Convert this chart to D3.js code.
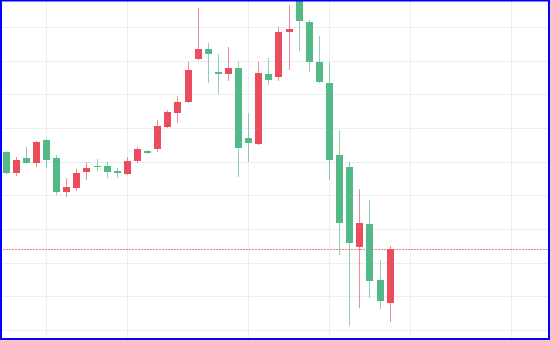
<!DOCTYPE html>
<html>
<head>
<meta charset="utf-8">
<script src="https://cdn.jsdelivr.net/npm/d3@7/dist/d3.min.js"></script>
<style>
  html, body { margin: 0; padding: 0; background: #ffffff; }
  svg { display: block; }
</style>
</head>
<body>
<div id="chart"></div>
<script>
// ---- data (bar index, OHLC) ----
const bars = d3.range(39);
const open  = [62.85,56.61,61.06,59.58,66.41,61.06,50.97,52.15,56.91,58.69,58.69,57.20,56.31,60.17,63.14,63.74,70.27,74.43,77.70,90.47,93.44,86.61,86.02,87.80,67.01,65.22,86.02,85.13,98.49,107.70,101.46,89.58,83.34,61.96,58.39,34.63,41.46,24.82,17.99];
const high  = [63.14,61.36,64.33,66.11,66.71,61.96,55.12,57.80,59.88,60.77,59.88,58.09,61.36,64.33,63.44,72.35,75.32,79.48,89.58,105.62,95.23,91.96,94.04,89.58,74.43,89.58,90.77,99.98,106.51,108.50,102.06,97.31,89.58,69.38,59.88,51.86,48.59,30.76,34.92];
const low   = [56.31,55.72,59.28,58.39,58.09,50.07,49.48,51.26,54.53,57.20,55.12,55.12,56.01,59.58,62.25,62.85,69.98,71.46,77.40,90.20,83.34,80.08,83.94,55.42,59.88,64.93,82.75,83.94,87.21,92.85,86.61,83.34,54.53,32.25,11.16,16.51,19.48,16.21,12.35];
const close = [56.61,60.47,59.58,65.82,60.47,50.97,52.45,56.61,58.09,58.39,56.91,56.61,60.17,63.74,62.55,70.57,74.73,77.70,87.21,93.44,91.96,86.02,87.80,64.04,65.52,86.31,84.24,98.49,99.39,101.76,89.58,83.64,60.47,41.76,35.82,41.76,24.53,18.58,34.03];
const priceTicks = [10,20,30,40,50,60,70,80,90,100];
const timeTicks = [4,12,24,32,40,50];
const lastPrice = close[close.length - 1];

// ---- chart ----
const W = 550, H = 340;
const upColor = "#eb4d5c", downColor = "#53b987";
const svg = d3.select("#chart").append("svg").attr("width", W).attr("height", H);
svg.append("rect").attr("width", W).attr("height", H).attr("fill", "#ffffff");

const x = d3.scaleLinear().domain([-0.554, 53.87]).range([0, W]);
const y = d3.scaleLinear().domain([7, 108]).range([H, 0]);

svg.append("defs").append("clipPath").attr("id", "clip")
  .append("rect").attr("x", 2).attr("y", 1).attr("width", W - 4).attr("height", H - 3);

const g = svg.append("g").attr("clip-path", "url(#clip)");

// grid
g.append("g").selectAll("line").data(priceTicks).join("line")
  .attr("x1", 0).attr("x2", W)
  .attr("y1", d => Math.round(y(d)) + 0.5).attr("y2", d => Math.round(y(d)) + 0.5)
  .attr("stroke", "#e9eef5").attr("stroke-width", 1);
g.append("g").selectAll("line").data(timeTicks).join("line")
  .attr("y1", 0).attr("y2", H)
  .attr("x1", d => Math.round(x(d)) + 0.5).attr("x2", d => Math.round(x(d)) + 0.5)
  .attr("stroke", "#e9eef5").attr("stroke-width", 1);

// last price line
g.append("line")
  .attr("x1", 0).attr("x2", W)
  .attr("y1", Math.round(y(lastPrice)) + 0.5).attr("y2", Math.round(y(lastPrice)) + 0.5)
  .attr("stroke", "#f07c87")
  .attr("stroke-width", 1).attr("stroke-dasharray", "2,1");

const col = i => close[i] >= open[i] ? upColor : downColor;

// wicks
g.append("g").selectAll("line").data(bars).join("line")
  .attr("x1", i => Math.round(x(i)) + 0.5).attr("x2", i => Math.round(x(i)) + 0.5)
  .attr("y1", i => y(high[i])).attr("y2", i => y(low[i]))
  .attr("stroke", col).attr("stroke-opacity", 0.65).attr("stroke-width", 1);

// bodies
const bw = 7;
g.append("g").selectAll("rect").data(bars).join("rect")
  .attr("x", i => Math.round(x(i)) + 0.5 - bw / 2)
  .attr("width", bw)
  .attr("y", i => y(Math.max(open[i], close[i])))
  .attr("height", i => Math.max(1, Math.abs(y(open[i]) - y(close[i]))))
  .attr("fill", col);

// border
svg.append("rect").attr("x", 1).attr("y", 0.5).attr("width", W - 2).attr("height", H - 1.5)
  .attr("fill", "none").attr("stroke", "#0000ff").attr("stroke-width", 2);
</script>
</body>
</html>
